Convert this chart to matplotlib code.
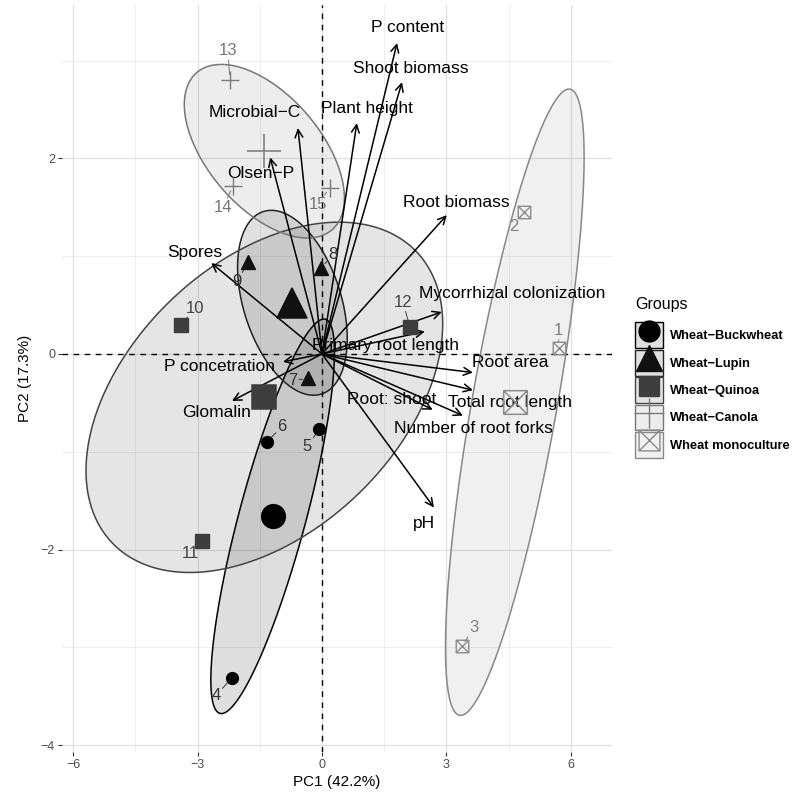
import numpy as np
import matplotlib
matplotlib.use('Agg')
import matplotlib.pyplot as plt
from matplotlib.path import Path
from matplotlib.patches import Patch, Polygon
from matplotlib.lines import Line2D
from matplotlib.legend_handler import HandlerTuple

plt.rcParams['font.family'] = ['Liberation Sans', 'DejaVu Sans']

# PCA scores of the plots, one list per cropping group
groups = ['Wheat−Buckwheat', 'Wheat−Lupin', 'Wheat−Quinoa', 'Wheat−Canola', 'Wheat monoculture']
plot_ids = [[4, 5, 6], [7, 8, 9], [10, 11, 12], [13, 14, 15], [1, 2, 3]]
pc1 = [[-2.17, -0.07, -1.33], [-0.34, -0.02, -1.78], [-3.40, -2.89, 2.12],
       [-2.22, -2.14, 0.19], [5.71, 4.87, 3.37]]
pc2 = [[-3.31, -0.77, -0.90], [-0.25, 0.88, 0.94], [0.30, -1.91, 0.28],
       [2.80, 1.72, 1.70], [0.06, 1.45, -2.99]]
# where the plot numbers sit (repelled from the points)
id_x = [[-2.55, -0.36, -0.96], [-0.70, 0.27, -2.05], [-3.06, -3.18, 1.95],
        [-2.27, -2.39, -0.10], [5.71, 4.63, 3.66]]
id_y = [[-3.49, -0.95, -0.74], [-0.27, 1.02, 0.74], [0.47, -2.04, 0.53],
        [3.10, 1.50, 1.53], [0.24, 1.30, -2.80]]

# variable loadings (arrow tips) and label positions
var_names = ['P content', 'Shoot biomass', 'Plant height', 'Microbial−C', 'Olsen−P',
             'Root biomass', 'Spores', 'Mycorrhizal colonization', 'Primary root length',
             'P concetration', 'Glomalin', 'Root area', 'Total root length',
             'Root: shoot', 'Number of root forks', 'pH']
load_x = [1.81, 1.93, 0.84, -0.58, -1.25, 3.01, -2.67, 2.89, 2.48,
          -0.94, -2.17, 3.64, 3.64, 2.67, 3.40, 2.70]
load_y = [3.18, 2.78, 2.36, 2.31, 2.01, 1.42, 0.93, 0.43, 0.23,
          -0.08, -0.48, -0.19, -0.37, -0.57, -0.63, -1.57]
name_x = [2.07, 2.14, 1.08, -1.61, -1.47, 3.25, -3.06, 4.58, 1.54,
          -2.46, -2.55, 4.53, 4.53, 1.69, 3.66, 2.46]
name_y = [3.34, 2.92, 2.51, 2.47, 1.85, 1.55, 1.04, 0.62, 0.09,
          -0.13, -0.60, -0.09, -0.50, -0.47, -0.76, -1.73]

# boxed cross marker (ggplot shape 7)
box_x = Path([(-1, -1), (1, -1), (1, 1), (-1, 1), (-1, -1), (-1, -1), (1, 1), (-1, 1), (1, -1)],
             [Path.MOVETO, Path.LINETO, Path.LINETO, Path.LINETO, Path.LINETO,
              Path.MOVETO, Path.LINETO, Path.MOVETO, Path.LINETO])

colors = ['#000000', '#111111', '#3d3d3d', '#7a7a7a', '#8c8c8c']
edge_colors = ['#000000', '#222222', '#444444', '#777777', '#888888']
markers = ['o', '^', 's', '+', box_x]
pt_size = [8.5, 10, 9.5, 13, 9]
ctr_size = [17, 21, 17, 24, 17]
id_colors = ['#333333', '#333333', '#444444', '#777777', '#808080']
fill_alpha = 0.13

fig = plt.figure(figsize=(7.98, 7.94), dpi=100)
ax = fig.add_axes([0.0777, 0.0529, 0.689, 0.941])

# concentration ellipses from each group's covariance
ed = np.sqrt(-2 * np.log(1 - 0.63))
theta = np.linspace(0, 2 * np.pi, 200)
circle = np.column_stack([np.cos(theta), np.sin(theta)])
for g in range(len(groups)):
    xy = np.column_stack([pc1[g], pc2[g]])
    mu = xy.mean(axis=0)
    sigma = np.cov(xy, rowvar=False)
    ell = circle @ np.linalg.cholesky(sigma).T * ed + mu
    ax.add_patch(Polygon(ell, closed=True, facecolor=colors[g], alpha=fill_alpha,
                         edgecolor='none', zorder=1))
    ax.add_patch(Polygon(ell, closed=True, facecolor='none', edgecolor=edge_colors[g],
                         lw=1.1, zorder=1.2))

ax.axhline(0, color='black', ls=(0, (4, 4)), lw=1.0, zorder=1.5)
ax.axvline(0, color='black', ls=(0, (4, 4)), lw=1.0, zorder=1.5)

# loading arrows
for i, name in enumerate(var_names):
    ax.annotate('', xy=(load_x[i], load_y[i]), xytext=(0, 0),
                arrowprops=dict(arrowstyle='->,head_length=0.4,head_width=0.2',
                                mutation_scale=14, lw=1.1, color='black',
                                shrinkA=0, shrinkB=0), zorder=2)
    ax.text(name_x[i], name_y[i], name, ha='center', va='center',
            fontsize=12.5, color='black', zorder=3)

# plots and group centroids
for g in range(len(groups)):
    fill = 'none' if g >= 3 else colors[g]
    ax.plot(pc1[g], pc2[g], ls='none', marker=markers[g], ms=pt_size[g],
            color=colors[g], mfc=fill, mew=1.0, zorder=4)
    ax.plot(np.mean(pc1[g]), np.mean(pc2[g]), ls='none', marker=markers[g],
            ms=ctr_size[g], color=colors[g], mfc=fill, mew=1.1, zorder=4)
    for k, pid in enumerate(plot_ids[g]):
        ax.annotate(str(pid), xy=(pc1[g][k], pc2[g][k]), xytext=(id_x[g][k], id_y[g][k]),
                    ha='center', va='center', fontsize=12, color=id_colors[g],
                    bbox=dict(boxstyle='square,pad=0.1', fc='none', ec='none'),
                    arrowprops=dict(arrowstyle='-', color=id_colors[g], lw=0.7,
                                    shrinkA=0, shrinkB=4), zorder=3.5)

ax.set_xlim(-6.27, 6.99)
ax.set_ylim(-4.07, 3.57)
ax.set_xticks([-6, -3, 0, 3, 6])
ax.set_xticks([-4.5, -1.5, 1.5, 4.5], minor=True)
ax.set_yticks([-4, -2, 0, 2])
ax.set_yticks([-3, -1, 1, 3], minor=True)
ax.grid(which='major', color='#e0e0e0', lw=0.9)
ax.grid(which='minor', color='#ebebeb', lw=0.6)
ax.set_axisbelow(True)
for s in ax.spines.values():
    s.set_visible(False)
ax.tick_params(which='major', length=3, width=0.8, color='#333333',
               labelsize=9, labelcolor='#4d4d4d', pad=2)
ax.tick_params(which='minor', length=0)
ax.set_xlabel('PC1 (42.2%)', fontsize=11, labelpad=3)
ax.set_ylabel('PC2 (17.3%)', fontsize=11, labelpad=6)

# legend keys: ellipse fill + outline + marker, all in one box
handles = []
for g in range(len(groups)):
    fill = 'none' if g >= 3 else colors[g]
    key = Patch(facecolor=colors[g], alpha=fill_alpha, edgecolor='none')
    edge = Patch(facecolor='none', edgecolor=edge_colors[g], lw=1.0)
    mk = Line2D([], [], ls='none', marker=markers[g], ms=ctr_size[g] - 2,
                color=colors[g], mfc=fill, mew=1.0)
    handles.append((key, edge, mk))
fig.text(0.7957, 1 - 305 / 794, 'Groups', fontsize=11.5, ha='left', va='center')
fig.legend(handles, groups, loc='upper left', bbox_to_anchor=(0.7957, 0.594),
           frameon=False, prop={'size': 9.3, 'weight': 'bold'},
           handlelength=2.15, handleheight=2.7, labelspacing=0.12,
           handletextpad=0.55, borderpad=0, borderaxespad=0,
           handler_map={tuple: HandlerTuple(ndivide=1, pad=0)})

fig.savefig('out.png', dpi=100)
